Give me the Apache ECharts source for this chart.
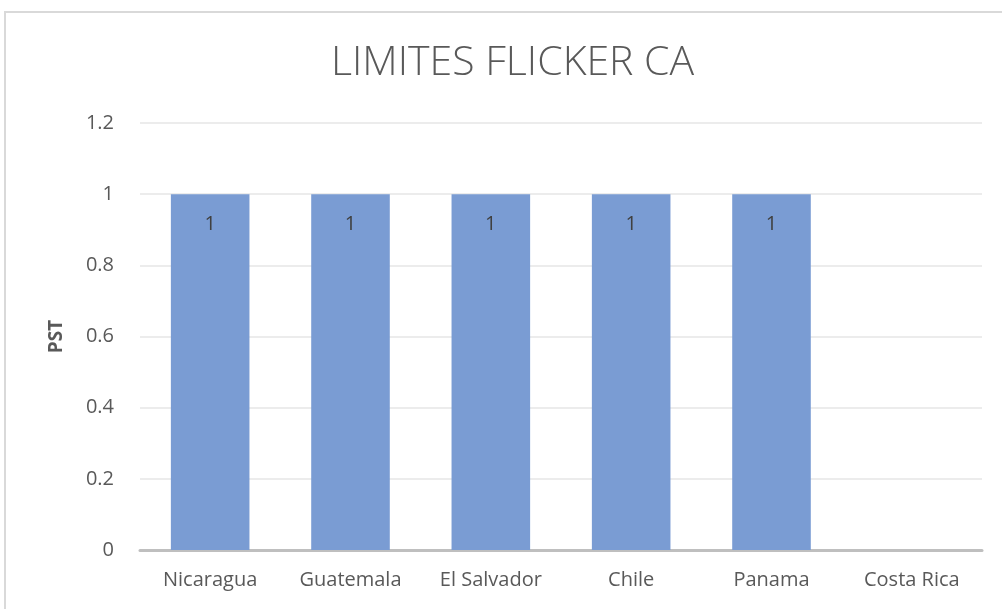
<!DOCTYPE html>
<html>
<head>
<meta charset="utf-8">
<script src="https://cdn.jsdelivr.net/npm/echarts@6/dist/echarts.min.js"></script>
<style>
  html, body { margin: 0; padding: 0; background: #fff; }
  #main { width: 1002px; height: 609px; }
</style>
</head>
<body>
<div id="main"></div>
<script>
var paises = ['Nicaragua', 'Guatemala', 'El Salvador', 'Chile', 'Panama', 'Costa Rica'];
// Costa Rica sin dato
var pst = [1, 1, 1, 1, 1, null];

var myChart = echarts.init(document.getElementById('main'));
var option = {
    backgroundColor: '#fff',
    title: {
        text: 'LIMITES FLICKER CA',
        left: 326,
        top: 38,
        textStyle: {
            fontFamily: 'Open Sans',
            fontWeight: 300,
            fontSize: 41,
            color: '#595959'
        }
    },
    graphic: [{
        type: 'rect',
        shape: {x: 5, y: 12, width: 1010, height: 620},
        style: {fill: 'none', stroke: '#d9d9d9', lineWidth: 2},
        silent: true
    }],
    grid: {
        left: 140,
        right: 20,
        top: 123,
        bottom: 59
    },
    xAxis: {
        type: 'category',
        data: paises,
        axisLine: {lineStyle: {color: '#bfbfbf', width: 3}},
        axisTick: {show: false},
        axisLabel: {
            fontFamily: 'Open Sans',
            fontSize: 20,
            color: '#595959',
            margin: 20
        }
    },
    yAxis: {
        type: 'value',
        name: 'PST',
        nameLocation: 'middle',
        nameGap: 74,
        nameTextStyle: {
            fontFamily: 'Open Sans',
            fontSize: 19,
            fontWeight: 'bold',
            color: '#595959'
        },
        min: 0,
        max: 1.2,
        interval: 0.2,
        axisLine: {show: false},
        axisTick: {show: false},
        axisLabel: {
            fontFamily: 'Open Sans',
            fontSize: 20,
            color: '#595959',
            margin: 26
        },
        splitLine: {lineStyle: {color: '#e6e6e6', width: 1.5}}
    },
    series: [{
        type: 'bar',
        data: pst,
        barWidth: '56%',
        itemStyle: {color: '#7a9cd3'},
        label: {
            show: true,
            position: 'insideTop',
            distance: 20,
            fontFamily: 'Open Sans',
            fontSize: 20,
            color: '#404040'
        }
    }]
};
myChart.setOption(option);
</script>
</body>
</html>
